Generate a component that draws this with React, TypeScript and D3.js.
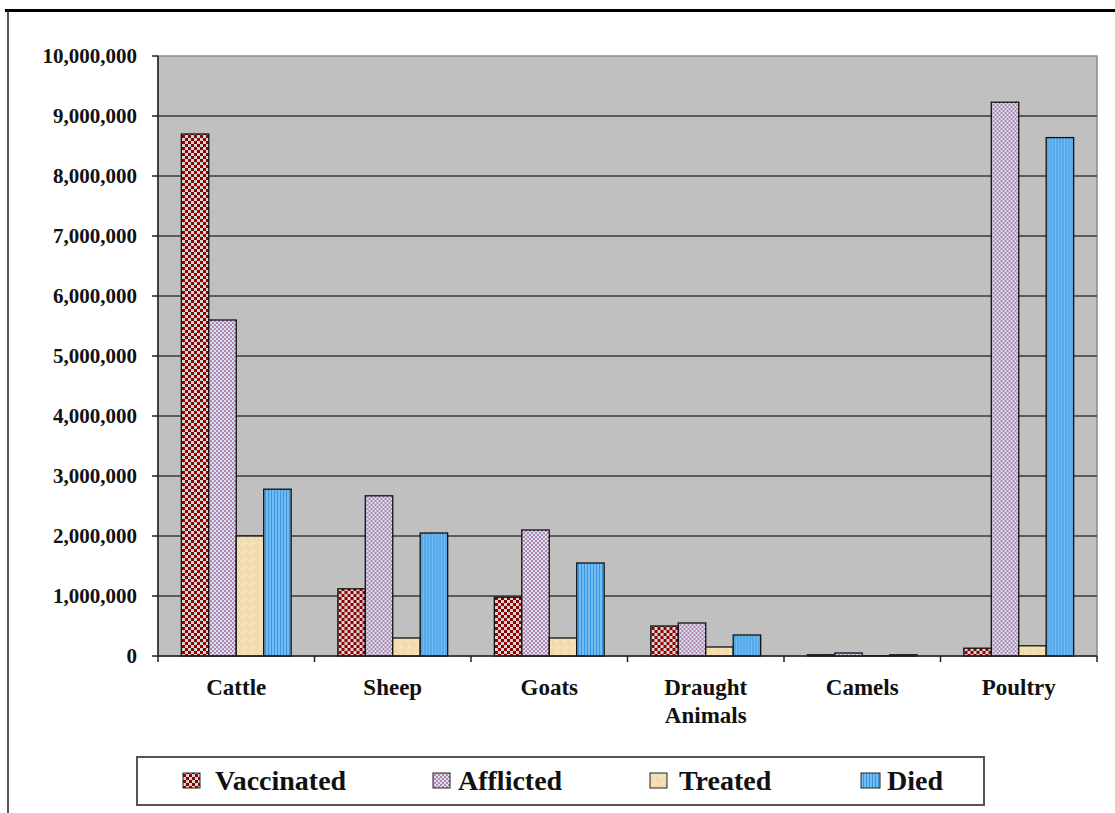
import React from "react";
import * as d3 from "d3";

const categories = ["Cattle", "Sheep", "Goats", "Draught Animals", "Camels", "Poultry"];
const series = ["Vaccinated", "Afflicted", "Treated", "Died"];
const vaccinated = [8700000, 1120000, 980000, 500000, 20000, 130000];
const afflicted = [5600000, 2670000, 2100000, 550000, 50000, 9230000];
const treated = [2000000, 300000, 300000, 150000, 5000, 170000];
const died = [2780000, 2050000, 1550000, 350000, 20000, 8640000];
const yTicks = [0, 1000000, 2000000, 3000000, 4000000, 5000000, 6000000, 7000000, 8000000, 9000000, 10000000];

const seriesValues = [vaccinated, afflicted, treated, died];
const fills = ["url(#pVacc)", "url(#pAffl)", "url(#pTreat)", "url(#pDied)"];

const W = 1115;
const H = 813;
const plot = { left: 158, right: 1097, top: 56, bottom: 656 };
const FONT = "Liberation Serif, Times New Roman, Times, serif";

export default function App() {
  const y = d3.scaleLinear().domain([0, 10000000]).range([plot.bottom, plot.top]);
  const x0 = d3.scaleBand<string>().domain(categories).range([plot.left, plot.right]).padding(0);
  const x1 = d3
    .scaleBand<string>()
    .domain(series)
    .range([0, x0.bandwidth()])
    .paddingInner(0)
    .paddingOuter(0.85);
  const fmt = d3.format(",");

  const legendX = [183, 433, 650, 861];
  const legendW = [17, 17, 17, 19];
  const legendTextX = [215, 458, 679, 887];

  return (
    <svg
      width={W}
      height={H}
      style={{ position: "absolute", left: 0, top: 0, background: "#fff", fontFamily: FONT }}
    >
      <defs>
        <pattern id="pVacc" width={6} height={6} patternUnits="userSpaceOnUse">
          <rect width={6} height={6} fill="#8f0000" />
          <rect x={0} y={0} width={3} height={3} fill="#d6d6d6" />
          <rect x={3} y={3} width={3} height={3} fill="#d6d6d6" />
        </pattern>
        <pattern id="pAffl" width={4} height={4} patternUnits="userSpaceOnUse">
          <rect width={4} height={4} fill="#d4e4ea" />
          <rect x={0} y={0} width={2} height={2} fill="#b684b4" />
          <rect x={2} y={2} width={2} height={2} fill="#b684b4" />
        </pattern>
        <pattern id="pTreat" width={8} height={8} patternUnits="userSpaceOnUse">
          <rect width={8} height={8} fill="#f3ddb0" />
          <rect x={1} y={2} width={1} height={1} fill="#e6c68e" />
          <rect x={5} y={0} width={1} height={1} fill="#fff3d8" />
          <rect x={3} y={5} width={1} height={1} fill="#e9cc98" />
          <rect x={6} y={6} width={1} height={1} fill="#fff6e0" />
          <rect x={0} y={7} width={1} height={1} fill="#f8e6c0" />
        </pattern>
        <pattern id="pDied" width={3} height={3} patternUnits="userSpaceOnUse">
          <rect width={3} height={3} fill="#70bcf2" />
          <rect x={2} y={0} width={1} height={3} fill="#3c96de" />
        </pattern>
      </defs>

      {/* outer frame */}
      <line x1={5} x2={W} y1={10.5} y2={10.5} stroke="#000" strokeWidth={3} />
      <line x1={8} x2={8} y1={10} y2={H} stroke="#222" strokeWidth={1.5} />

      {/* plot area */}
      <rect
        x={plot.left}
        y={plot.top}
        width={plot.right - plot.left}
        height={plot.bottom - plot.top}
        fill="#c0c0c0"
        stroke="#8a8a8a"
        strokeWidth={1.5}
      />

      {/* gridlines */}
      {yTicks
        .filter((t) => t > 0 && t < 10000000)
        .map((t) => (
          <line
            key={"g" + t}
            x1={plot.left}
            x2={plot.right}
            y1={y(t)}
            y2={y(t)}
            stroke="#3a3a3a"
            strokeWidth={1.6}
          />
        ))}

      {/* bars */}
      {categories.map((c, ci) => (
        <g key={c} transform={`translate(${x0(c)},0)`}>
          {series.map((s, si) => {
            const v = seriesValues[si][ci];
            const yy = y(v);
            return (
              <rect
                key={s}
                x={x1(s)}
                y={yy}
                width={x1.bandwidth()}
                height={plot.bottom - yy}
                fill={fills[si]}
                stroke="#111"
                strokeWidth={1.3}
              />
            );
          })}
        </g>
      ))}

      {/* y axis */}
      <line x1={plot.left} x2={plot.left} y1={plot.top} y2={plot.bottom} stroke="#222" strokeWidth={1.5} />
      {yTicks.map((t) => (
        <g key={"y" + t}>
          <line x1={plot.left - 6} x2={plot.left} y1={y(t)} y2={y(t)} stroke="#222" strokeWidth={1.5} />
          <text
            x={137}
            y={y(t) + 7}
            textAnchor="end"
            fontSize={21}
            fontWeight="bold"
            fill="#111"
          >
            {fmt(t)}
          </text>
        </g>
      ))}

      {/* x axis */}
      <line x1={plot.left} x2={plot.right} y1={plot.bottom} y2={plot.bottom} stroke="#222" strokeWidth={1.5} />
      {categories.map((c) => (
        <line
          key={"xt" + c}
          x1={x0(c)!}
          x2={x0(c)!}
          y1={plot.bottom}
          y2={plot.bottom + 6}
          stroke="#222"
          strokeWidth={1.5}
        />
      ))}
      <line x1={plot.right} x2={plot.right} y1={plot.bottom} y2={plot.bottom + 6} stroke="#222" strokeWidth={1.5} />
      {categories.map((c) => {
        const cx = x0(c)! + x0.bandwidth() / 2;
        const lines = c === "Draught Animals" ? ["Draught", "Animals"] : [c];
        return (
          <text key={"xl" + c} textAnchor="middle" fontSize={23} fontWeight="bold" fill="#111">
            {lines.map((l, i) => (
              <tspan key={l} x={cx} y={695 + i * 28}>
                {l}
              </tspan>
            ))}
          </text>
        );
      })}

      {/* legend */}
      <rect x={137} y={757} width={847} height={48} fill="#fff" stroke="#555" strokeWidth={2} />
      {series.map((s, i) => (
        <g key={"lg" + s}>
          <rect x={legendX[i]} y={773} width={legendW[i]} height={15} fill={fills[i]} stroke="#222" strokeWidth={1} />
          <text x={legendTextX[i]} y={790} fontSize={28} fontWeight="bold" fill="#111">
            {s}
          </text>
        </g>
      ))}
    </svg>
  );
}
